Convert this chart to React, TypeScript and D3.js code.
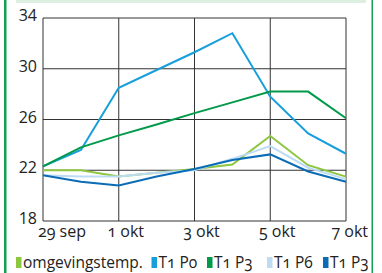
import React, { useEffect, useRef } from 'react'
import * as d3 from 'd3'

// one value per day, 29 sep .. 7 okt
const days = ['29 sep', '30 sep', '1 okt', '2 okt', '3 okt', '4 okt', '5 okt', '6 okt', '7 okt']
const tickDays = ['29 sep', '1 okt', '3 okt', '5 okt', '7 okt']
const yTicks = [18, 22, 26, 30, 34]

const omgeving = [22.0, 22.0, 21.5, 21.8, 22.1, 22.45, 24.7, 22.4, 21.5]
const t1p0 = [22.3, 23.6, 28.5, 29.9, 31.3, 32.8, 27.8, 24.9, 23.3]
const t1p3 = [22.3, 23.8, 24.75, 25.6, 26.5, 27.35, 28.2, 28.2, 26.1]
const t1p6 = [21.6, 21.5, 21.5, 21.8, 22.0, 22.9, 23.9, 22.2, 21.3]
const t1p3b = [21.6, 21.1, 20.8, 21.5, 22.1, 22.8, 23.25, 21.9, 21.1]

const seriesNames = ['omgevingstemp.', 'T1 P0', 'T1 P3', 'T1 P6', 'T1 P3']
const seriesColors = ['#8dc63f', '#169fdb', '#009a4a', '#bddcf3', '#0a6cb6']

export default function App() {
  const ref = useRef<SVGSVGElement>(null)

  useEffect(() => {
    const svg = d3.select(ref.current)
    svg.selectAll('*').remove()
    const H = 273
    const left = 43, right = 346, top = 18, bottom = 221
    const font = '"Open Sans", sans-serif'
    const nums = 'oldstyle-nums'

    // frame
    svg.append('rect').attr('x', 16).attr('y', 0).attr('width', 350).attr('height', 3).attr('fill', '#dcefe0')
    svg.append('rect').attr('x', 4).attr('y', 0).attr('width', 2.5).attr('height', H).attr('fill', '#13a04f')
    svg.append('rect').attr('x', 371.5).attr('y', 0).attr('width', 1.5).attr('height', H).attr('fill', '#13a04f')

    const x = d3.scalePoint<string>().domain(days).range([left, right])
    const y = d3.scaleLinear().domain([18, 34]).range([bottom, top])

    const g = svg.append('g')
    // grid
    g.selectAll('line.h').data(yTicks).enter().append('line')
      .attr('x1', left).attr('x2', right)
      .attr('y1', d => y(d)).attr('y2', d => y(d))
      .attr('stroke', '#333').attr('stroke-width', 1)
    g.selectAll('line.v').data(tickDays).enter().append('line')
      .attr('x1', d => x(d)!).attr('x2', d => x(d)!)
      .attr('y1', top).attr('y2', bottom)
      .attr('stroke', '#333').attr('stroke-width', 1)

    // y labels (lining figures like the original)
    g.selectAll('text.y').data(yTicks).enter().append('text')
      .attr('x', 37).attr('y', d => y(d) + 3)
      .attr('text-anchor', 'end')
      .attr('font-family', font).attr('font-size', 16).attr('fill', '#222')
      .text(d => d)

    // x labels
    g.selectAll('text.x').data(tickDays).enter().append('text')
      .attr('x', (d, i) => i === 0 ? 38 : i === tickDays.length - 1 ? 368 : x(d)! + 7)
      .attr('y', 237)
      .attr('text-anchor', (d, i) => i === 0 ? 'start' : i === tickDays.length - 1 ? 'end' : 'middle')
      .attr('font-family', font).attr('font-size', 16).attr('fill', '#222')
      .style('font-variant-numeric', nums)
      .text(d => d)

    // lines
    const line = d3.line<number>().x((d, i) => x(days[i])!).y(d => y(d))
    const all = [omgeving, t1p0, t1p3, t1p6, t1p3b]
    g.selectAll('path.s').data(all).enter().append('path')
      .attr('d', d => line(d))
      .attr('fill', 'none')
      .attr('stroke', (d, i) => seriesColors[i])
      .attr('stroke-width', 2)

    // legend
    const legX = [16, 151.5, 207, 267, 323]
    const leg = svg.selectAll('g.leg').data(seriesNames).enter().append('g')
      .attr('transform', (d, i) => `translate(${legX[i]},257)`)
    leg.append('rect').attr('width', 5.5).attr('height', 11).attr('fill', (d, i) => seriesColors[i])
    leg.append('text').attr('x', 7).attr('y', 11)
      .attr('font-family', font).attr('font-size', 15.5).attr('fill', '#222')
      .style('font-variant-numeric', nums)
      .text(d => d)
  }, [])

  return (
    <svg ref={ref} width={382} height={273} style={{ position: 'absolute', left: 0, top: 0, background: '#fff' }} />
  )
}
